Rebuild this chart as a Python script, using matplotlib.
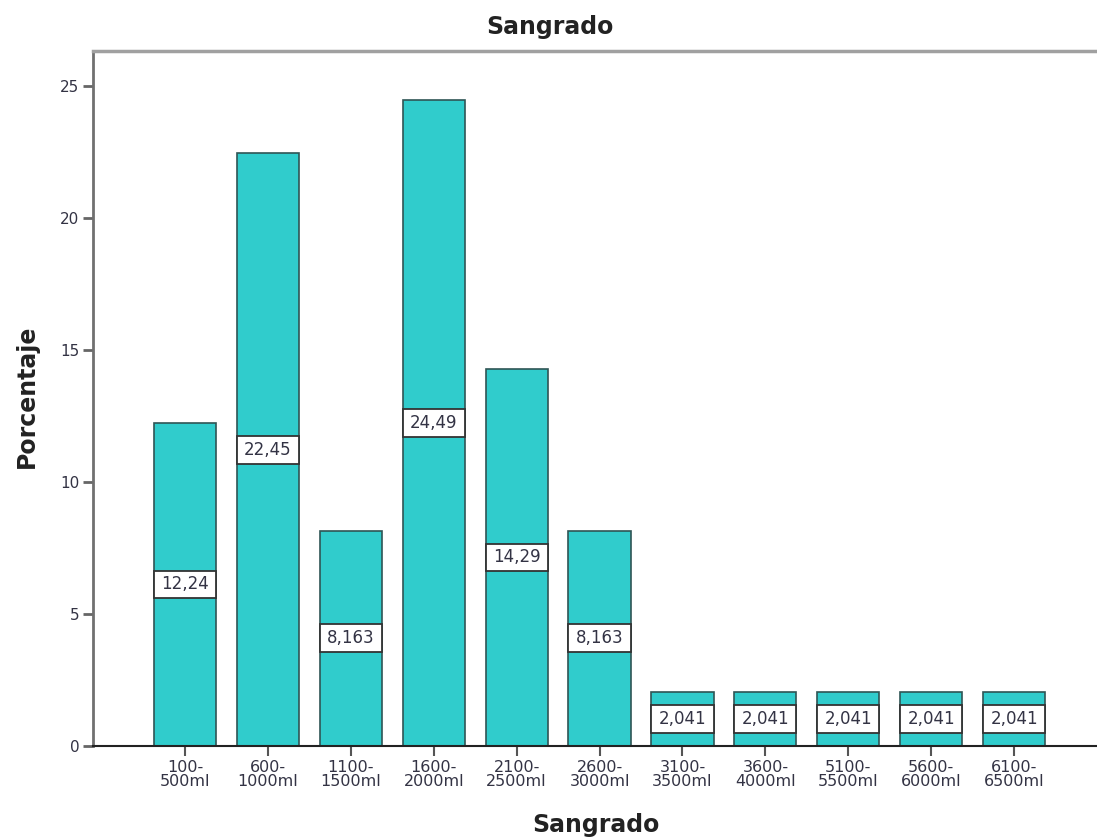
import matplotlib.pyplot as plt
from matplotlib.patches import Rectangle

# blood loss ranges and percentage of patients in each
rangos = ['100-\n500ml', '600-\n1000ml', '1100-\n1500ml', '1600-\n2000ml',
          '2100-\n2500ml', '2600-\n3000ml', '3100-\n3500ml', '3600-\n4000ml',
          '5100-\n5500ml', '5600-\n6000ml', '6100-\n6500ml']
porcentajes = [12.24, 22.45, 8.163, 24.49, 14.29, 8.163,
               2.041, 2.041, 2.041, 2.041, 2.041]
etiquetas = ['12,24', '22,45', '8,163', '24,49', '14,29', '8,163',
             '2,041', '2,041', '2,041', '2,041', '2,041']
yticks = [0, 5, 10, 15, 20, 25]

fig = plt.figure(figsize=(10.97, 8.40), dpi=100)
ax = fig.add_axes([0.0848, 0.1119, 0.9152, 0.8274])

x = list(range(len(rangos)))
bars = ax.bar(x, porcentajes, width=0.75, color='#30cccc',
              edgecolor='#2f5555', linewidth=1.2, zorder=2)

# boxed value labels at mid height of each bar
box_h = 1.05
for b, val, txt in zip(bars, porcentajes, etiquetas):
    yc = val / 2
    ax.add_patch(Rectangle((b.get_x(), yc - box_h / 2), b.get_width(), box_h,
                           facecolor='white', edgecolor='#333333',
                           linewidth=1.3, zorder=3))
    ax.text(b.get_x() + b.get_width() / 2, yc, txt, ha='center', va='center',
            fontsize=12, color='#333344', zorder=4)

ax.set_xlim(-1.11, 11.0)
ax.set_ylim(0, 26.33)
ax.set_xticks(x)
ax.set_xticklabels(rangos, fontsize=11.5, color='#333344', linespacing=0.92)
ax.set_yticks(yticks)
ax.set_yticklabels([str(t) for t in yticks], fontsize=11, color='#333344')
ax.tick_params(axis='y', length=7, width=2, color='#666666', pad=3)
ax.tick_params(axis='x', length=7, width=1.5, color='#555555', pad=3)

ax.spines['right'].set_visible(False)
ax.spines['top'].set_color('#a0a0a0')
ax.spines['top'].set_linewidth(2.5)
ax.spines['left'].set_color('#707070')
ax.spines['left'].set_linewidth(2)
ax.spines['bottom'].set_color('#222222')
ax.spines['bottom'].set_linewidth(1.5)

fig.text(550 / 1097, 1 - 27 / 840, 'Sangrado', ha='center', va='center',
         fontsize=17, fontweight='bold', color='#222222')
fig.text(596 / 1097, 1 - 825 / 840, 'Sangrado', ha='center', va='center',
         fontsize=17, fontweight='bold', color='#222222')
fig.text(27 / 1097, 1 - 396 / 840, 'Porcentaje', ha='center', va='center',
         rotation=90, fontsize=17, fontweight='bold', color='#222222')

plt.savefig('out.png', dpi=100)
